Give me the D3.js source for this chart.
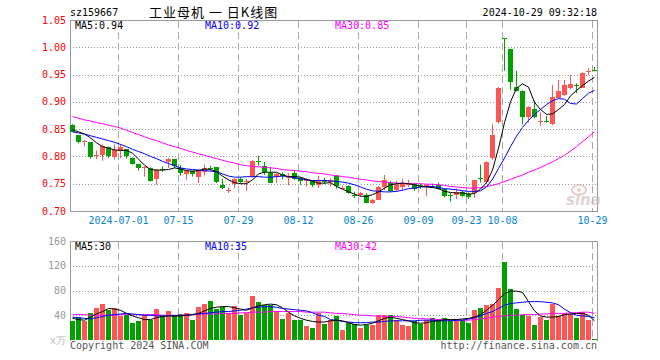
<!DOCTYPE html>
<meta charset="utf-8">
<style>

body {
  margin: 0;
  background: #fff;
}

text {
  font-family: "DejaVu Sans Mono", monospace;
  font-size: 10px;
}

</style>
<body>
<script src="https://cdnjs.cloudflare.com/ajax/libs/d3/7.8.5/d3.min.js"></script>
<script>

// trading days shown (2024)
const dates = [
  "06-19","06-20","06-21","06-24","06-25","06-26","06-27","06-28",
  "07-01","07-02","07-03","07-04","07-05","07-08","07-09","07-10","07-11","07-12",
  "07-15","07-16","07-17","07-18","07-19","07-22","07-23","07-24","07-25","07-26",
  "07-29","07-30","07-31",
  "08-01","08-02","08-05","08-06","08-07","08-08","08-09","08-12","08-13","08-14",
  "08-15","08-16","08-19","08-20","08-21","08-22","08-23","08-26","08-27","08-28",
  "08-29","08-30",
  "09-02","09-03","09-04","09-05","09-06","09-09","09-10","09-11","09-12","09-13",
  "09-18","09-19","09-20","09-23","09-24","09-25","09-26","09-27","09-30",
  "10-08","10-09","10-10","10-11","10-14","10-15","10-16","10-17","10-18","10-21",
  "10-22","10-23","10-24","10-25","10-28","10-29"
];

const opens = [
  .858,.839,.827,.826,.801,.803,.817,.799,.809,.813,
  .798,.786,.780,.779,.759,.777,.789,.795,.778,.769,
  .774,.763,.771,.779,.780,.748,.737,.750,.759,.754,
  .763,.791,.783,.770,.761,.767,.762,.770,.761,.756,
  .755,.748,.755,.752,.764,.742,.746,.730,.729,.729,
  .715,.721,.743,.752,.738,.745,.749,.749,.747,.744,
  .746,.748,.740,.729,.729,.734,.732,.733,.760,.753,
  .797,.862,1.017,.997,.927,.920,.872,.886,.864,.865,
  .859,.908,.912,.925,.930,.926,.955,.959
];

const highs = [
  .859,.839,.830,.826,.811,.822,.818,.822,.822,.814,
  .798,.786,.782,.780,.777,.782,.797,.795,.784,.775,
  .774,.777,.785,.783,.780,.759,.743,.760,.762,.759,
  .793,.801,.790,.781,.770,.771,.769,.775,.762,.760,
  .756,.764,.761,.760,.765,.747,.747,.735,.735,.733,
  .722,.746,.766,.755,.755,.759,.757,.751,.750,.749,
  .750,.752,.741,.733,.741,.737,.734,.757,.785,.791,
  .859,.927,1.017,.997,.957,.921,.892,.902,.881,.874,
  .931,.940,.940,.949,.934,.954,.962,.964
];

const lows = [
  .845,.824,.818,.796,.795,.792,.797,.794,.797,.796,
  .785,.774,.763,.754,.748,.772,.779,.779,.765,.757,
  .763,.751,.765,.774,.751,.740,.733,.742,.751,.737,
  .761,.783,.766,.751,.751,.758,.747,.757,.748,.745,
  .744,.742,.750,.745,.741,.741,.732,.724,.727,.714,
  .713,.720,.738,.735,.735,.738,.744,.737,.741,.727,
  .742,.739,.725,.717,.722,.725,.722,.724,.752,.750,
  .794,.860,.957,.922,.919,.859,.862,.870,.856,.862,
  .857,.907,.911,.923,.916,.925,.949,.956
];

const closes = [
  .846,.827,.828,.799,.802,.820,.801,.811,.817,.801,
  .787,.779,.781,.755,.776,.776,.795,.782,.769,.774,
  .768,.776,.778,.778,.753,.742,.738,.759,.754,.755,
  .791,.790,.772,.751,.767,.764,.763,.759,.756,.757,
  .747,.755,.754,.756,.746,.743,.733,.729,.733,.715,
  .721,.744,.756,.737,.749,.750,.750,.740,.746,.748,
  .745,.741,.727,.728,.735,.727,.726,.756,.758,.789,
  .840,.925,1.016,.936,.920,.872,.891,.872,.865,.864,
  .908,.920,.931,.932,.929,.953,.956,.958
];

// volume, 万手
const volumes = [
  31,37,31,44,52,58,48,51,39,40,
  28,30,40,33,50,38,47,39,42,44,
  32,54,58,63,50,54,44,55,40,44,
  71,62,57,57,47,34,44,32,32,23,
  20,44,26,33,39,16,27,26,20,24,
  25,40,40,40,32,24,23,30,26,33,
  36,34,35,33,34,33,28,48,52,57,
  58,84,126,82,50,40,39,24,37,32,
  58,39,44,42,36,45,32,2
];

// moving averages as shown on the chart
const ma5 = [
  .849,.845,.841,.834,.825,.818,.815,.812,.811,.811,
  .806,.795,.784,.776,.775,.775,.776,.779,.777,.774,
  .773,.774,.777,.776,.772,.764,.757,.752,.750,.750,
  .757,.768,.771,.771,.771,.766,.763,.763,.762,.758,
  .755,.751,.751,.752,.745,.740,.735,.731,.727,.727,
  .730,.735,.742,.748,.750,.751,.750,.748,.745,.744,
  .743,.741,.736,.734,.733,.733,.731,.732,.740,.752,
  .775,.815,.862,.900,.925,.933,.927,.899,.886,.877,
  .878,.886,.895,.911,.921,.930,.938,.945
];

const ma10 = [
  .845,.843,.841,.838,.835,.832,.829,.826,.822,.818,
  .813,.809,.805,.800,.796,.791,.787,.783,.779,.777,
  .776,.775,.774,.773,.772,.768,.764,.762,.762,.763,
  .763,.763,.762,.762,.763,.764,.763,.761,.759,.757,
  .756,.756,.756,.755,.754,.753,.751,.748,.744,.740,
  .737,.736,.735,.735,.736,.738,.741,.742,.744,.745,
  .745,.743,.741,.740,.739,.737,.736,.736,.737,.744,
  .758,.778,.797,.818,.837,.853,.866,.877,.886,.895,
  .902,.906,.905,.897,.896,.906,.916,.921
];

const ma30 = [
  .873,.870,.867,.865,.862,.860,.857,.855,.852,.848,
  .844,.840,.836,.832,.829,.825,.821,.818,.815,.811,
  .808,.805,.802,.799,.796,.793,.790,.788,.785,.783,
  .782,.781,.780,.779,.778,.776,.775,.774,.773,.772,
  .770,.769,.768,.766,.765,.763,.762,.760,.758,.757,
  .755,.754,.753,.752,.751,.751,.750,.750,.750,.749,
  .749,.748,.747,.745,.744,.743,.742,.742,.743,.745,
  .747,.750,.754,.758,.762,.766,.771,.775,.780,.785,
  .790,.796,.802,.810,.818,.827,.836,.845
];

const volMa5 = [
  35,33,32,37,42,46,51,50,48,43,
  39,36,33,33,36,38,39,39,39,40,
  41,43,47,51,53,54,54,52,50,48,
  52,55,57,58,57,52,45,39,35,32,
  30,29,29,31,32,31,28,25,24,25,
  27,31,35,37,35,33,31,28,27,28,
  30,31,33,33,33,34,35,37,41,48,
  56,65,75,79,79,77,62,47,39,37,
  37,38,41,42,43,43,40,31
];

const volMa10 = [
  37,36,35,34,36,38,40,41,42,43,
  42,41,40,40,39,39,39,39,39,40,
  41,42,43,44,45,46,46,47,48,50,
  52,53,54,54,53,51,50,49,48,47,
  44,40,38,33,32,30,29,28,28,28,
  29,29,30,31,31,31,31,31,32,32,
  32,31,31,31,32,32,34,36,39,43,
  46,51,56,59,60,61,62,62,62,61,
  60,57,50,44,40,39,38,36
];

const volMa30 = [
  41,41,41,40,40,40,40,40,41,41,
  41,41,41,41,41,40,40,40,40,41,
  41,42,42,42,42,43,43,43,44,44,
  45,45,45,46,46,46,46,46,46,45,
  45,45,45,44,43,43,42,41,40,40,
  39,39,38,38,38,37,36,35,35,34,
  34,33,33,32,32,32,32,33,34,35,
  37,38,39,40,40,41,41,41,42,42,
  43,43,43,44,44,45,45,43
];

// values printed in the legends
const priceMaLabels = ["0.94", "0.92", "0.85"];
const volMaLabels = ["30", "35", "42"];
const maNames = ["MA5", "MA10", "MA30"];

const priceTicks = [0.70, 0.75, 0.80, 0.85, 0.90, 0.95, 1.00, 1.05];
const volTicks = [40, 80, 120, 160];
const tickDates = ["07-01","07-15","07-29","08-12","08-26","09-09","09-23","10-08","10-29"];
const tickLabels = ["2024-07-01","07-15","07-29","08-12","08-26","09-09","09-23","10-08","10-29"];

const width = 660;
const height = 360;

const upColor = "#ff5555";
const downColor = "#00a000";
const maColors = ["#000000", "#0000ff", "#ff00ff"];

const left = 70, right = 598;

const x = d3.scaleBand()
    .domain(dates)
    .range([left, right]);

const yP = d3.scaleLinear()
    .domain([0.70, 1.05])
    .range([211, 20]);

const yV = d3.scaleLinear()
    .domain([0, 160])
    .range([340, 241]);

const svg = d3.select("body").append("svg")
    .attr("width", width)
    .attr("height", height);

// grid
const grid = svg.append("g");

grid.selectAll(".hp")
    .data(priceTicks.slice(1, -1))
  .enter().append("line")
    .attr("x1", left).attr("x2", right)
    .attr("y1", d => Math.round(yP(d)) + 0.5)
    .attr("y2", d => Math.round(yP(d)) + 0.5)
    .attr("stroke", "#999")
    .attr("stroke-dasharray", "1,2");

grid.selectAll(".hv")
    .data(volTicks.slice(0, -1))
  .enter().append("line")
    .attr("x1", left).attr("x2", right)
    .attr("y1", d => Math.round(yV(d)) + 0.5)
    .attr("y2", d => Math.round(yV(d)) + 0.5)
    .attr("stroke", "#999")
    .attr("stroke-dasharray", "1,2");

tickDates.forEach(d => {
  const xx = x(d) + 0.5;
  grid.append("line")
      .attr("x1", xx).attr("x2", xx)
      .attr("y1", 21).attr("y2", 211)
      .attr("stroke", "#aaa")
      .attr("stroke-dasharray", "7,4");
  grid.append("line")
      .attr("x1", xx).attr("x2", xx)
      .attr("y1", 242).attr("y2", 341)
      .attr("stroke", "#aaa")
      .attr("stroke-dasharray", "7,4");
});

// frames
svg.append("rect")
    .attr("x", left + 0.5).attr("y", 20.5)
    .attr("width", right - left - 1).attr("height", 191)
    .attr("fill", "none")
    .attr("stroke", "#999");

svg.append("path")
    .attr("d", `M${left + 0.5},341V241.5H${right - 0.5}V341`)
    .attr("fill", "none")
    .attr("stroke", "#999");

// sina watermark
const wm = svg.append("g").attr("opacity", 0.55);
wm.append("ellipse")
    .attr("cx", 579).attr("cy", 190)
    .attr("rx", 7).attr("ry", 5)
    .attr("fill", "none")
    .attr("stroke", "#e0a0a0")
    .attr("stroke-width", 2);
wm.append("circle")
    .attr("cx", 579).attr("cy", 190).attr("r", 2)
    .attr("fill", "#e0a0a0");
wm.append("text")
    .attr("x", 566).attr("y", 205)
    .style("font-family", "DejaVu Sans")
    .style("font-size", "15px")
    .style("font-weight", "bold")
    .style("font-style", "italic")
    .attr("fill", "#c8b0b0")
    .text("sina");

// candles
const idx = d3.range(dates.length);
const colorOf = i => closes[i] >= opens[i] ? upColor : downColor;

const candle = svg.append("g")
  .selectAll("g")
    .data(idx)
  .enter().append("g");

candle.append("line")
    .attr("x1", i => x(dates[i]) + 2.5)
    .attr("x2", i => x(dates[i]) + 2.5)
    .attr("y1", i => yP(highs[i]))
    .attr("y2", i => yP(lows[i]))
    .attr("stroke", colorOf);

candle.append("rect")
    .attr("x", i => x(dates[i]))
    .attr("width", 5)
    .attr("y", i => Math.round(yP(Math.max(opens[i], closes[i]))))
    .attr("height", i => Math.max(1, Math.round(Math.abs(yP(opens[i]) - yP(closes[i])))))
    .attr("fill", colorOf)
    .attr("shape-rendering", "crispEdges");

// volume bars
svg.append("g")
  .selectAll("rect")
    .data(idx)
  .enter().append("rect")
    .attr("x", i => x(dates[i]))
    .attr("width", 5)
    .attr("y", i => yV(volumes[i]))
    .attr("height", i => yV(0) - yV(volumes[i]))
    .attr("fill", colorOf)
    .attr("shape-rendering", "crispEdges");

// moving average lines
const priceLine = d3.line()
    .x((d, i) => x(dates[i]) + 2.5)
    .y(d => yP(d));

const volLine = d3.line()
    .x((d, i) => x(dates[i]) + 2.5)
    .y(d => yV(d));

[ma30, ma10, ma5].forEach((s, k) => {
  svg.append("path")
      .attr("d", priceLine(s))
      .attr("fill", "none")
      .attr("stroke", maColors[2 - k])
      .attr("stroke-width", 1);
});

[volMa30, volMa10, volMa5].forEach((s, k) => {
  svg.append("path")
      .attr("d", volLine(s))
      .attr("fill", "none")
      .attr("stroke", maColors[2 - k])
      .attr("stroke-width", 1);
});

// axis labels
svg.selectAll(".pl")
    .data(priceTicks)
  .enter().append("text")
    .attr("x", 66)
    .attr("y", d => yP(d))
    .attr("dy", "0.35em")
    .attr("text-anchor", "end")
    .attr("fill", "#ff0000")
    .text(d => d.toFixed(2));

svg.selectAll(".vl")
    .data(volTicks)
  .enter().append("text")
    .attr("x", 66)
    .attr("y", d => yV(d))
    .attr("dy", "0.35em")
    .attr("text-anchor", "end")
    .attr("fill", "#999")
    .text(d => d);

svg.append("text")
    .attr("x", 66).attr("y", 344)
    .attr("text-anchor", "end")
    .attr("fill", "#bbb")
    .text("x万");

svg.selectAll(".xl")
    .data(tickDates)
  .enter().append("text")
    .attr("x", d => x(d) + 0.5)
    .attr("y", 224)
    .attr("text-anchor", "middle")
    .attr("fill", "#0a84d0")
    .text((d, i) => tickLabels[i]);

// header
svg.append("text")
    .attr("x", 70).attr("y", 16)
    .attr("fill", "#000")
    .text("sz159667");

svg.append("text")
    .attr("x", 149).attr("y", 17)
    .style("font-family", "'Noto Sans CJK SC', sans-serif")
    .style("font-size", "13px")
    .style("letter-spacing", "1px")
    .attr("fill", "#000")
    .attr("xml:space", "preserve")
    .text("工业母机 一 日K线图");

svg.append("text")
    .attr("x", 597).attr("y", 16)
    .attr("text-anchor", "end")
    .attr("fill", "#000")
    .text("2024-10-29 09:32:18");

// MA legends
const legendX = [75, 205, 335];

maNames.forEach((n, k) => {
  svg.append("text")
      .attr("x", legendX[k]).attr("y", 29)
      .attr("fill", maColors[k])
      .text(n + ":" + priceMaLabels[k]);
  svg.append("text")
      .attr("x", legendX[k]).attr("y", 250)
      .attr("fill", maColors[k])
      .text(n + ":" + volMaLabels[k]);
});

// footer
svg.append("text")
    .attr("x", 70).attr("y", 349)
    .attr("fill", "#555")
    .text("Copyright 2024 SINA.COM");

svg.append("text")
    .attr("x", 597).attr("y", 349)
    .attr("text-anchor", "end")
    .attr("fill", "#555")
    .text("http://finance.sina.com.cn");

</script>
